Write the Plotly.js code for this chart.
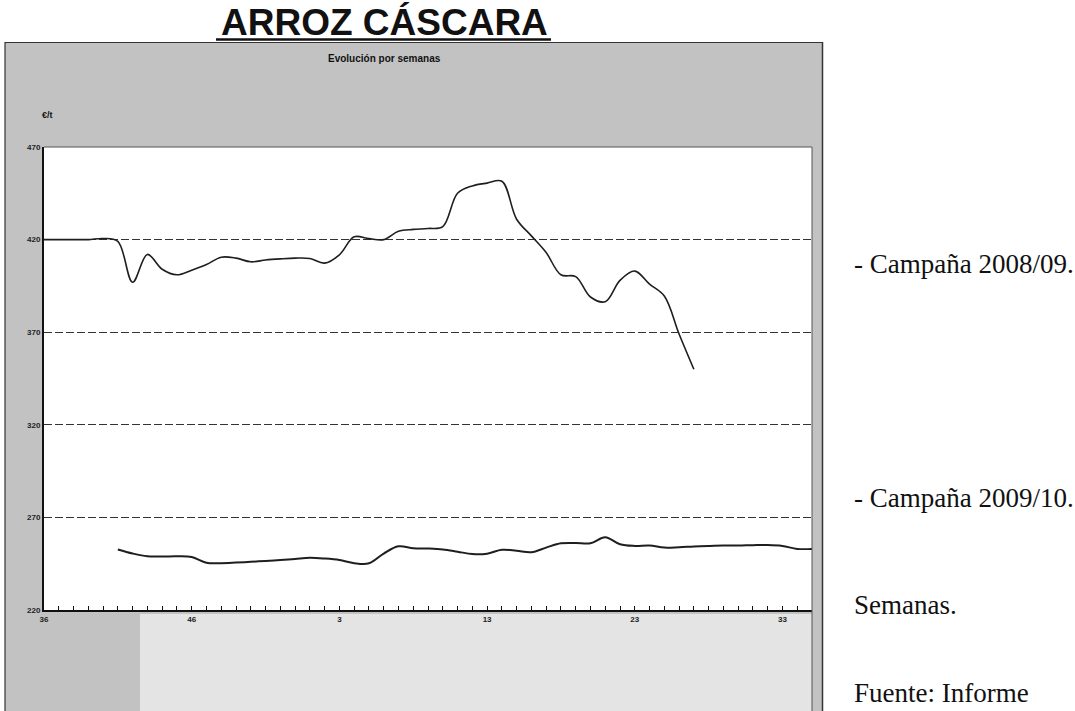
<!DOCTYPE html>
<html>
<head>
<meta charset="utf-8">
<script src="https://cdn.plot.ly/plotly-3.0.1.min.js"></script>
<style>
  html, body { margin: 0; padding: 0; background: #ffffff; }
  #chart { width: 1075px; height: 711px; }
</style>
</head>
<body>
<div id="chart"></div>
<script>
// Marketing-year weeks (week 36 to week 35 of the following year)
const weeks = [36,37,38,39,40,41,42,43,44,45,46,47,48,49,50,51,52,53,
               1,2,3,4,5,6,7,8,9,10,11,12,13,14,15,16,17,18,19,20,21,22,23,24,25,26,27,28,29,30,31,32,33,34,35];
const labeledWeeks = [36,46,3,13,23,33];
const yTickValues = [220,270,320,370,420,470];

// Campaña 2008/09 (€/t), from week 36 onwards
const campana0809 = [420,420,420,420,420.6,419,397,412,404,401,403.5,406.5,410.5,410,408,409,409.6,410,409.8,407.3,
                     411.8,421.5,420.5,420,424.5,425.5,426,427,445,449,450.5,451.5,431,422,413,401,400,389,386.5,398,
                     403,396,389.5,369,350];
// Campaña 2009/10 (€/t), first value at week 41
const campana0910 = [null,null,null,null,null,252.7,250.5,249,248.9,249,248.6,245.5,245.3,245.6,246,246.5,247,247.6,248.2,247.8,
                     247,245.3,245.2,250.5,254.4,253.4,253.2,252.7,251.5,250.2,250.4,252.5,252,251.2,253.7,256,256.2,256,259.3,255.5,
                     254.6,254.8,253.7,253.9,254.3,254.6,254.8,254.8,255,255.1,254.6,253,253];

const titleText = "ARROZ CÁSCARA";
const subtitleText = "Evolución por semanas";
const unitText = "€/t";
const sideTexts = ["- Campaña 2008/09.", "- Campaña 2009/10.", "Semanas.", "Fuente: Informe"];

// pixel helpers (plot area: x 44..812, y 147..610)
const L = 44, R = 812, T = 147, B = 610;
const px = v => (v - L) / (R - L);
const py = v => (B - v) / (B - T);

const idx = weeks.map((w, i) => i);
const tickText = weeks.map(w => labeledWeeks.includes(w) ? String(w) : '');

const traces = [
  { x: idx.slice(0, campana0809.length), y: campana0809, type: 'scatter', mode: 'lines',
    line: { color: '#1e1e1e', width: 1.6, shape: 'spline', smoothing: 1 }, name: '2008/09', hoverinfo: 'none' },
  { x: idx, y: campana0910, type: 'scatter', mode: 'lines', connectgaps: false,
    line: { color: '#1e1e1e', width: 2, shape: 'spline', smoothing: 1 }, name: '2009/10', hoverinfo: 'none' }
];

const gray = '#c2c2c2';
const serif = 'Liberation Serif, Times New Roman, serif';
const sans = 'Liberation Sans, Arial, sans-serif';
const shapes = [
  // white areas outside the grey panel
  { type: 'rect', xref: 'paper', yref: 'paper', x0: px(823), x1: px(1080), y0: py(-5), y1: py(720), fillcolor: '#ffffff', line: { width: 0 }, layer: 'below' },
  { type: 'rect', xref: 'paper', yref: 'paper', x0: px(-5), x1: px(1080), y0: py(-5), y1: py(42), fillcolor: '#ffffff', line: { width: 0 }, layer: 'below' },
  { type: 'rect', xref: 'paper', yref: 'paper', x0: px(-5), x1: px(5), y0: py(-5), y1: py(720), fillcolor: '#ffffff', line: { width: 0 }, layer: 'below' },
  // lighter strip below the axis
  { type: 'rect', xref: 'paper', yref: 'paper', x0: px(140), x1: px(812), y0: py(614), y1: py(720), fillcolor: '#e4e4e4', line: { width: 0 }, layer: 'below' },
  // panel border
  { type: 'line', xref: 'paper', yref: 'paper', x0: px(5), x1: px(5), y0: py(42), y1: py(720), line: { color: '#333', width: 1.2 } },
  { type: 'line', xref: 'paper', yref: 'paper', x0: px(5), x1: px(823), y0: py(42.5), y1: py(42.5), line: { color: '#333', width: 1.2 } },
  { type: 'line', xref: 'paper', yref: 'paper', x0: px(822.5), x1: px(822.5), y0: py(42), y1: py(720), line: { color: '#333', width: 1.5 } },
  // title underline
  { type: 'line', xref: 'paper', yref: 'paper', x0: px(216), x1: px(551), y0: py(39.5), y1: py(39.5), line: { color: '#111', width: 2.5 } },
  // plot frame (thin) and right edge continuing below
  { type: 'line', xref: 'paper', yref: 'paper', x0: 0, x1: 1, y0: 1, y1: 1, line: { color: '#555', width: 1 } },
  { type: 'line', xref: 'paper', yref: 'paper', x0: 1, x1: 1, y0: py(720), y1: 1, line: { color: '#555', width: 1 } }
];

const annotations = [
  { text: '<b>' + titleText + '</b>', xref: 'paper', yref: 'paper', x: px(384), y: py(45), xanchor: 'center', yanchor: 'bottom',
    showarrow: false, font: { family: sans, size: 37, color: '#111' } },
  { text: '<b>' + subtitleText + '</b>', xref: 'paper', yref: 'paper', x: px(384), y: py(58), xanchor: 'center', yanchor: 'middle',
    showarrow: false, font: { family: sans, size: 10, color: '#111' } },
  { text: '<b>' + unitText + '</b>', xref: 'paper', yref: 'paper', x: px(40), y: py(115), xanchor: 'left', yanchor: 'middle',
    showarrow: false, font: { family: sans, size: 9, color: '#111' } },
  { text: sideTexts[0], xref: 'paper', yref: 'paper', x: px(852), y: py(264), xanchor: 'left', yanchor: 'middle',
    showarrow: false, font: { family: serif, size: 27, color: '#111' } },
  { text: sideTexts[1], xref: 'paper', yref: 'paper', x: px(852), y: py(498), xanchor: 'left', yanchor: 'middle',
    showarrow: false, font: { family: serif, size: 27, color: '#111' } },
  { text: sideTexts[2], xref: 'paper', yref: 'paper', x: px(852), y: py(605), xanchor: 'left', yanchor: 'middle',
    showarrow: false, font: { family: serif, size: 27, color: '#111' } },
  { text: sideTexts[3], xref: 'paper', yref: 'paper', x: px(852), y: py(710), xanchor: 'left', yanchor: 'bottom',
    showarrow: false, font: { family: serif, size: 27, color: '#111' } }
];

const layout = {
  width: 1075, height: 711,
  margin: { l: L, r: 1075 - R, t: T, b: 711 - B, pad: 0 },
  paper_bgcolor: gray,
  plot_bgcolor: '#ffffff',
  showlegend: false,
  xaxis: {
    range: [0, 52], tickmode: 'array', tickvals: idx, ticktext: tickText,
    ticks: 'inside', ticklen: 4, tickwidth: 1, tickcolor: '#111',
    showgrid: false, zeroline: false,
    showline: true, linecolor: '#111', linewidth: 2,
    tickfont: { family: sans, size: 8, color: '#222', weight: 'bold' },
    fixedrange: true
  },
  yaxis: {
    range: [220, 470], tickmode: 'array', tickvals: yTickValues, ticktext: yTickValues.map(String),
    ticks: '', showgrid: true, gridcolor: '#333', gridwidth: 1, griddash: '8px,3px',
    zeroline: false, showline: true, linecolor: '#111', linewidth: 2,
    tickfont: { family: sans, size: 8, color: '#222', weight: 'bold' },
    fixedrange: true
  },
  shapes: shapes,
  annotations: annotations
};

Plotly.newPlot('chart', traces, layout, { displayModeBar: false, staticPlot: true });
</script>
</body>
</html>
